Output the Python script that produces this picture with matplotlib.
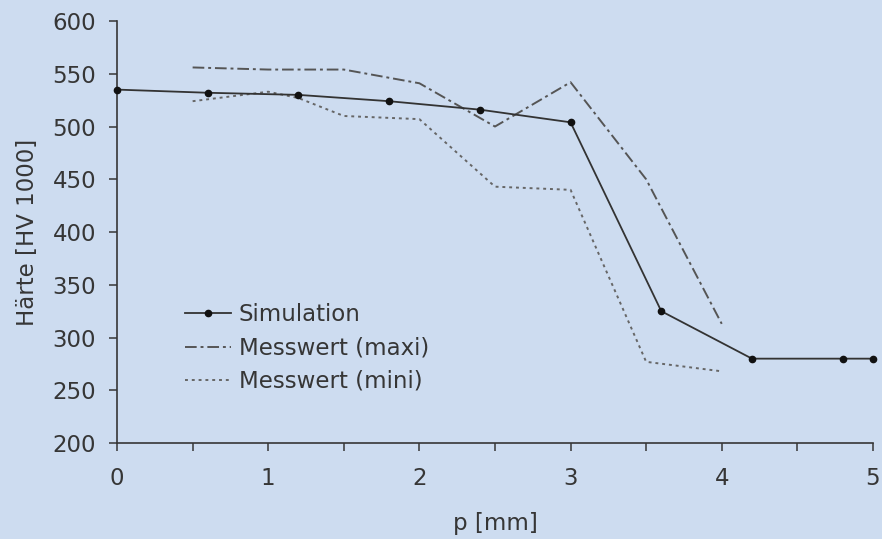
import matplotlib.pyplot as plt
from matplotlib.ticker import MultipleLocator

sim_x = [0, 0.6, 1.2, 1.8, 2.4, 3.0, 3.6, 4.2, 4.8, 5.0]
sim_y = [535, 532, 530, 524, 516, 504, 325, 280, 280, 280]

maxi_x = [0.5, 1.0, 1.5, 2.0, 2.5, 3.0, 3.5, 4.0]
maxi_y = [556, 554, 554, 541, 500, 542, 450, 313]

mini_x = [0.5, 1.0, 1.2, 1.5, 2.0, 2.5, 3.0, 3.5, 4.0]
mini_y = [524, 533, 527, 510, 507, 443, 440, 277, 268]

bg = '#cddcf0'
ink = '#363636'

plt.rcParams['font.family'] = ['DejaVu Sans']

fig = plt.figure(figsize=(8.82, 5.39), dpi=100, facecolor=bg)
ax = fig.add_axes([0.1327, 0.178, 0.857, 0.783], facecolor=bg)

ax.plot(sim_x, sim_y, color='#333333', lw=1.3, marker='o', ms=4.5,
        mfc='#111111', mec='#111111', label='Simulation', clip_on=False, zorder=3)
ax.plot(maxi_x, maxi_y, color='#555555', lw=1.4, linestyle=(0, (6, 2, 1.5, 2)),
        label='Messwert (maxi)')
ax.plot(mini_x, mini_y, color='#666666', lw=1.4, linestyle=(0, (1.5, 2)),
        label='Messwert (mini)')

ax.set_xlim(0, 5)
ax.set_ylim(200, 600)
ax.xaxis.set_major_locator(MultipleLocator(1))
ax.xaxis.set_minor_locator(MultipleLocator(0.5))
ax.yaxis.set_major_locator(MultipleLocator(50))

for side in ('top', 'right'):
    ax.spines[side].set_visible(False)
for side in ('left', 'bottom'):
    ax.spines[side].set_color(ink)
    ax.spines[side].set_linewidth(1.2)

ax.tick_params(axis='both', which='both', direction='out', length=6, width=1.1,
               color=ink, labelcolor=ink, labelsize=16.5)
ax.tick_params(axis='x', pad=11)
ax.tick_params(axis='y', pad=9)

ax.set_xlabel('p [mm]', fontsize=16.5, color=ink, labelpad=16)
ax.set_ylabel('Härte [HV 1000]', fontsize=16.5, color=ink, labelpad=10)

ax.legend(loc='upper left', bbox_to_anchor=(0.09, 0.331), frameon=False,
          borderpad=0, borderaxespad=0, fontsize=16.5, handlelength=2.0,
          handletextpad=0.35, labelspacing=0.45, labelcolor=ink)

fig.savefig('out.png', dpi=100, facecolor=bg)
